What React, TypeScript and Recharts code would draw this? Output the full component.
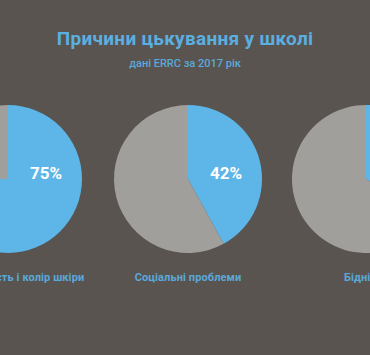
import React from 'react';
import { PieChart, Pie, Cell } from 'recharts';

const categories = ['Національність і колір шкіри', 'Соціальні проблеми', 'Бідність'];
const shares = [75, 42, 34];
const title = 'Причини цькування у школі';
const subtitle = 'дані ERRC за 2017 рік';

const BLUE = '#5db6e7';
const GRAY = '#a19f9c';
const BG = '#59544f';

const W = 370;
const H = 355;
const centers = [8, 188, 366];
const CY = 179;
const R = 74;

const renderPct = (value: number) => (props: any) => {
  if (props.index !== 0) return null;
  return (
    <text
      x={props.cx + 38}
      y={props.cy - 6}
      fill="#ffffff"
      fontSize={17}
      fontWeight={700}
      textAnchor="middle"
      dominantBaseline="central"
      fontFamily="Roboto, sans-serif"
    >
      {`${value}%`}
    </text>
  );
};

const App: React.FC = () => {
  return (
    <div style={{ position: 'absolute', left: 0, top: 0, width: W, height: H, background: BG, overflow: 'hidden', fontFamily: 'Roboto, sans-serif' }}>
      <div style={{ position: 'absolute', top: 27, width: W, textAlign: 'center', color: '#5aafe0', fontSize: 19, fontWeight: 700, letterSpacing: 0.3 }}>
        {title}
      </div>
      <div style={{ position: 'absolute', top: 57, width: W, textAlign: 'center', color: '#5aa9dc', fontSize: 11, fontWeight: 500 }}>
        {subtitle}
      </div>
      <div style={{ position: 'absolute', left: 0, top: 0 }}>
        <PieChart width={W} height={H} margin={{ top: 0, right: 0, bottom: 0, left: 0 }}>
          {shares.map((v, i) => (
            <Pie
              key={categories[i]}
              data={[{ name: categories[i], value: v }, { name: 'інше', value: 100 - v }]}
              dataKey="value"
              cx={centers[i]}
              cy={CY}
              outerRadius={R}
              startAngle={90}
              endAngle={-270}
              stroke="none"
              isAnimationActive={false}
              labelLine={false}
              label={renderPct(v)}
            >
              <Cell fill={BLUE} />
              <Cell fill={GRAY} />
            </Pie>
          ))}
        </PieChart>
      </div>
      {categories.map((c, i) => (
        <div
          key={c}
          style={{ position: 'absolute', top: 271, left: centers[i] - 150, width: 300, textAlign: 'center', color: '#5aa8da', fontSize: 11, fontWeight: 700, letterSpacing: 0.1, whiteSpace: 'nowrap' }}
        >
          {c}
        </div>
      ))}
    </div>
  );
};

export default App;
